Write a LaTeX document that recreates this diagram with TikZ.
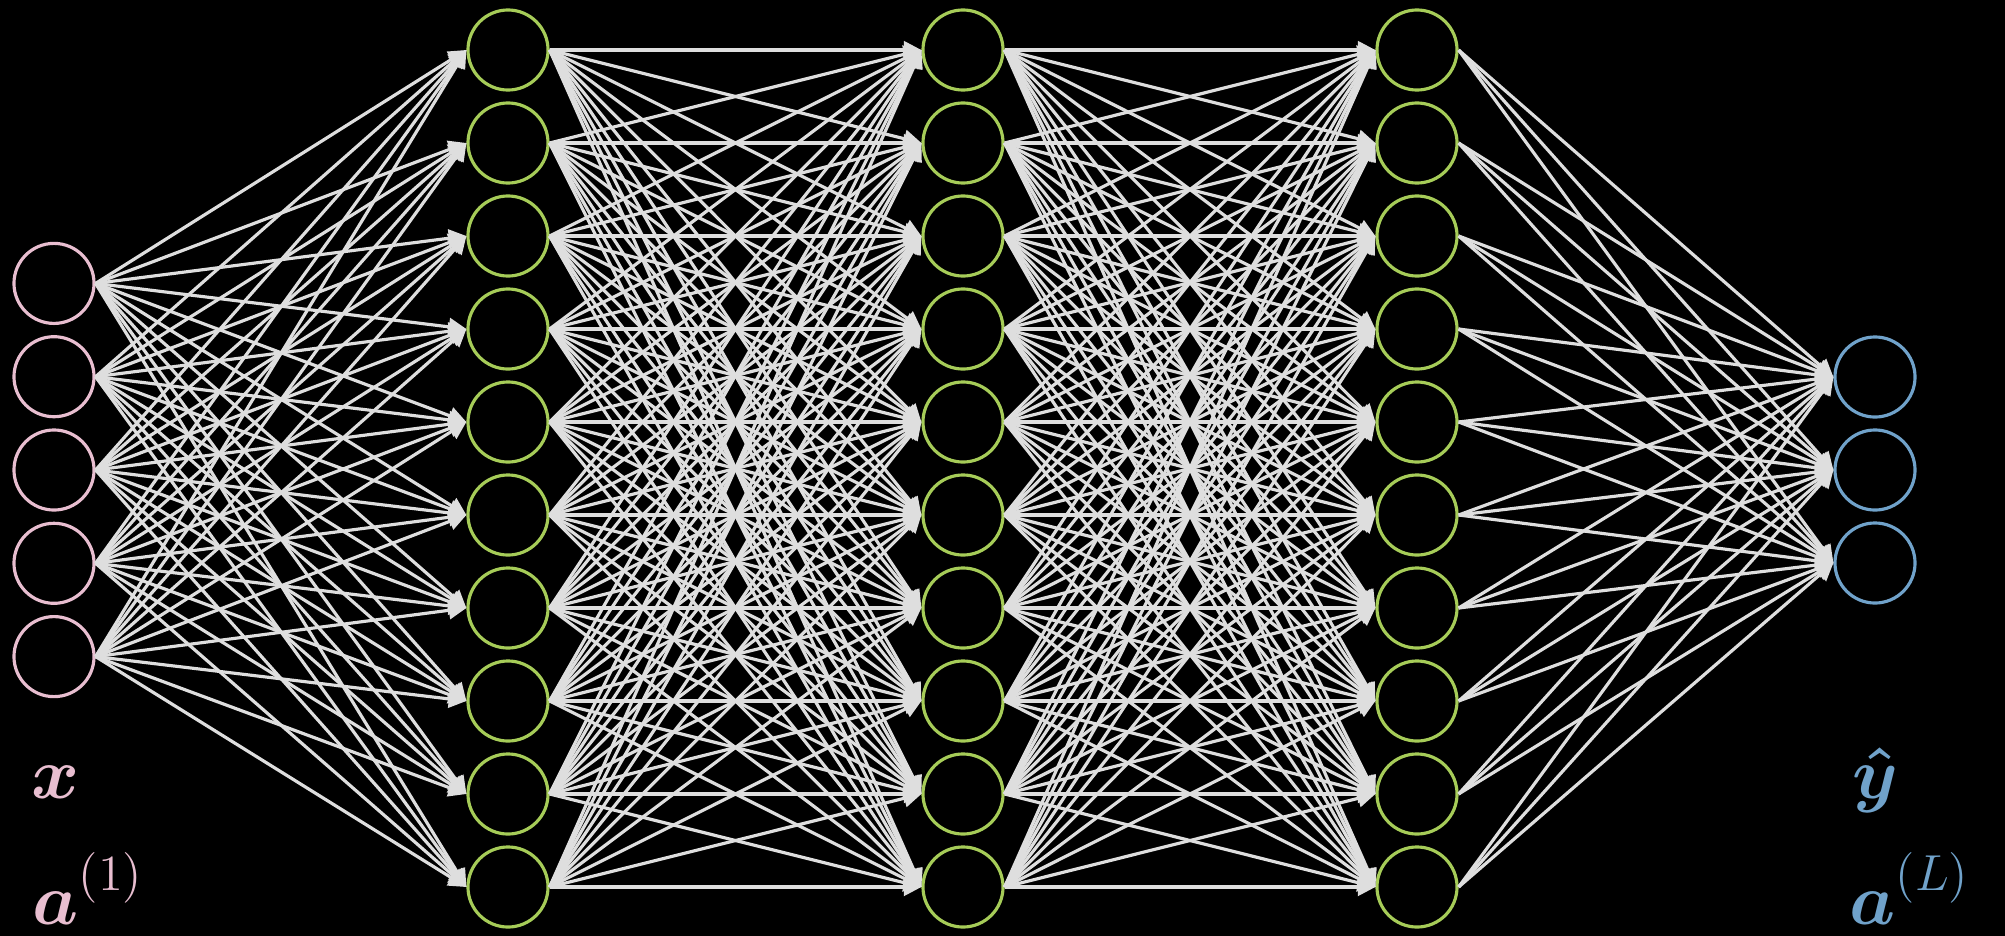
\documentclass[tikz,border=0pt]{standalone}
\usepackage{amsmath,amssymb,bm}
\usepackage{xcolor}
\usetikzlibrary{arrows.meta}

\definecolor{inpink}{RGB}{232,190,208}
\definecolor{hidgreen}{RGB}{166,204,88}
\definecolor{outblue}{RGB}{112,162,202}
\definecolor{edgegray}{RGB}{222,222,222}

\begin{document}
\begin{tikzpicture}[
    x=0.01cm, y=-0.01cm,
    neuron/.style={circle, draw, line width=0.9pt, minimum size=0.8cm, inner sep=0pt},
    arrow/.style={-{Triangle[length=5pt, width=5pt]}, line width=0.9pt, draw=edgegray},
    label/.style={anchor=base west, inner sep=0pt, font=\fontsize{22}{26}\selectfont}
]

\fill[black] (0,0) rectangle (2005,936);

% layers
\foreach \i in {1,...,5}
    \node[neuron, draw=inpink] (in\i) at (54, {470+(\i-3)*93.3}) {};
\foreach \l/\x in {1/508, 2/963, 3/1417}
    \foreach \i in {1,...,10}
        \node[neuron, draw=hidgreen] (h\l-\i) at (\x, {50+(\i-1)*93}) {};
\foreach \i in {1,2,3}
    \node[neuron, draw=outblue] (out\i) at (1875, {377+(\i-1)*93}) {};

% connections
\foreach \i in {1,...,5}
    \foreach \j in {1,...,10}
        \draw[arrow] (in\i.east) -- (h1-\j.west);
\foreach \l/\m in {1/2, 2/3}
    \foreach \i in {1,...,10}
        \foreach \j in {1,...,10}
            \draw[arrow] (h\l-\i.east) -- (h\m-\j.west);
\foreach \i in {1,...,10}
    \foreach \j in {1,2,3}
        \draw[arrow] (h3-\i.east) -- (out\j.west);

% labels
\node[label, text=inpink] (xlabel) at (31, 798) {$\boldsymbol{x}$};
\node[label, text=inpink] (afirst) at (32, 924) {$\boldsymbol{a}^{\raisebox{2pt}{$\scriptstyle(1)$}}$};
\node[label, text=outblue] (yhat) at (1852, 798) {$\boldsymbol{\hat{y}}$};
\node[label, text=outblue] (alast) at (1849, 924) {$\boldsymbol{a}^{\raisebox{2pt}{$\scriptstyle(L)$}}$};

\end{tikzpicture}
\end{document}
